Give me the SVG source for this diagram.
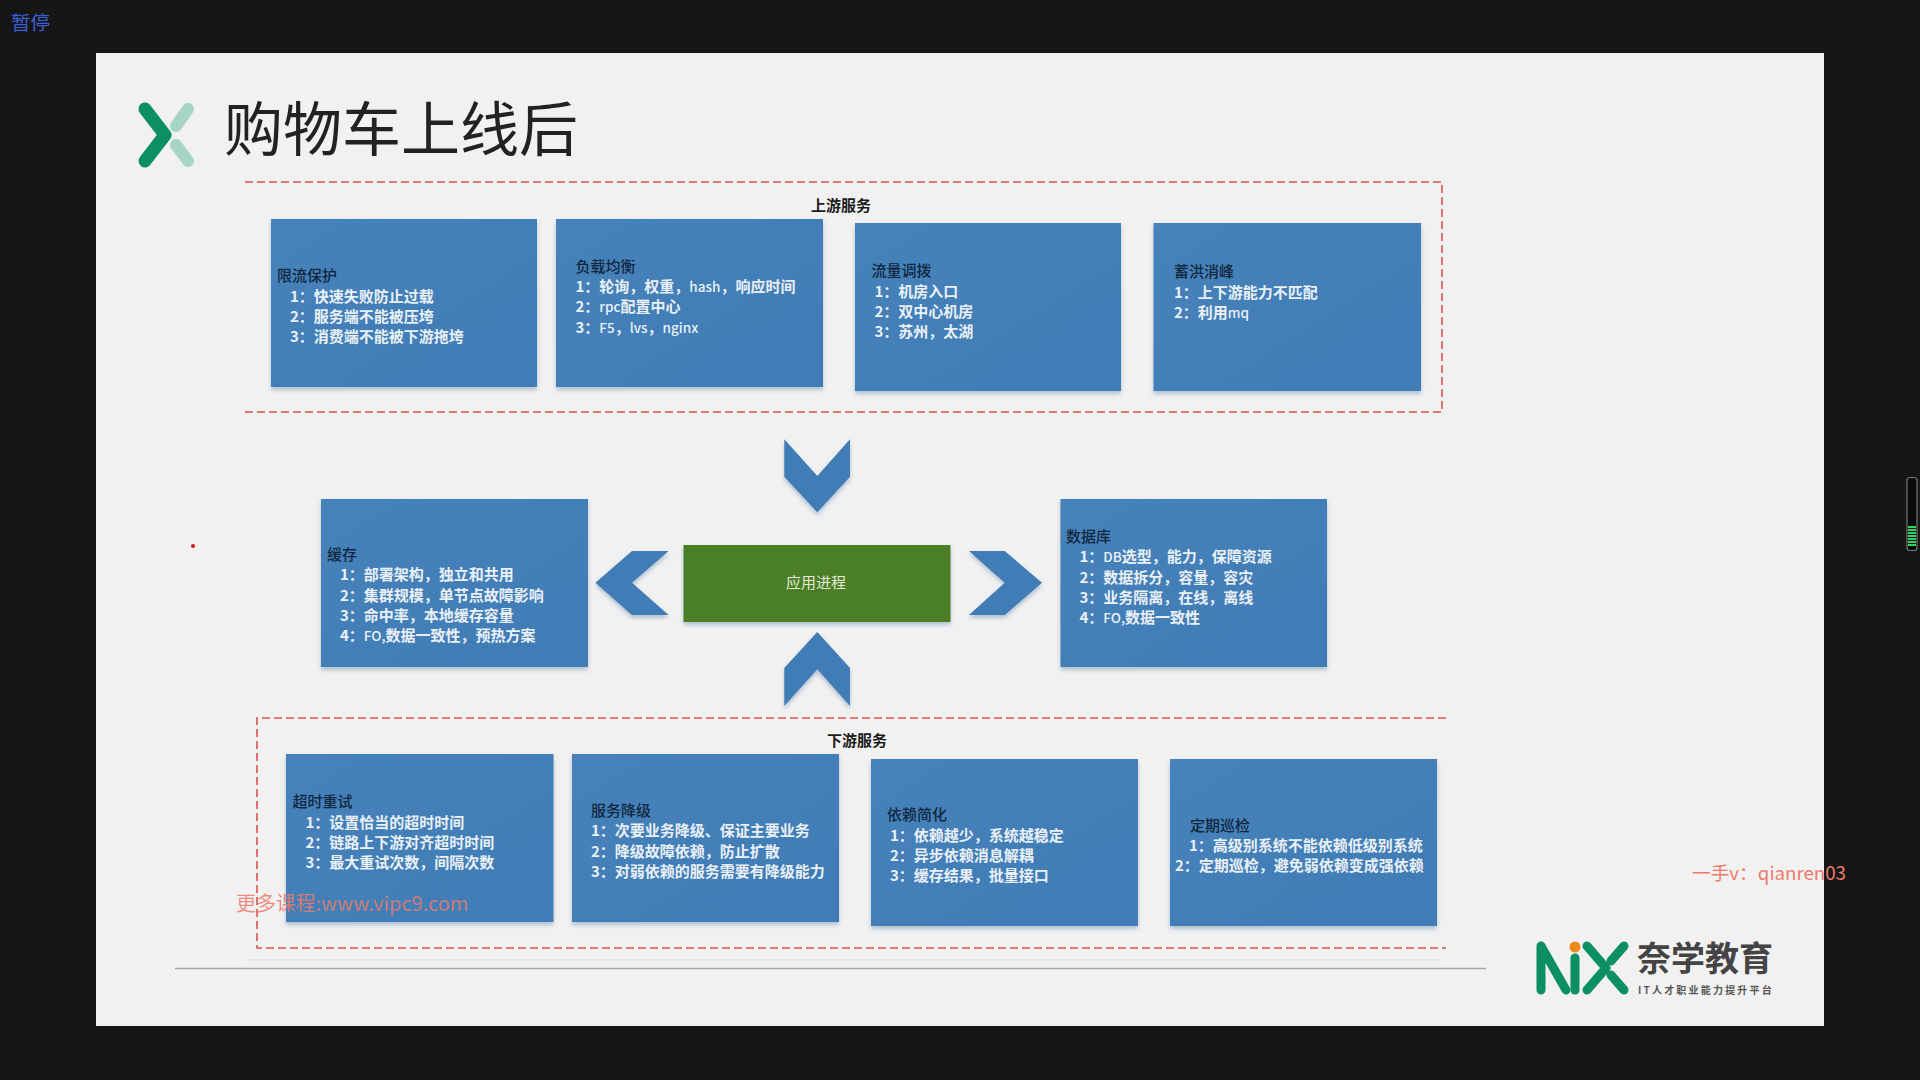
<svg xmlns="http://www.w3.org/2000/svg" width="1920" height="1080" viewBox="0 0 1920 1080">
<style>
text{font-family:"Noto Sans CJK SC","Noto Sans",sans-serif}
.box{fill:url(#b);filter:url(#s)}
.h{font-size:15px;fill:#10273f;font-weight:500}
.t{font-size:15px;fill:#eaf0f6;font-weight:700}
.l{font-size:13.5px;font-weight:500}
.cap{font-size:15px;fill:#1b1b1b;font-weight:700}
.dash{fill:none;stroke:#d9534a;stroke-width:1.6;stroke-dasharray:8 4}
.chev{fill:#3f7bb5;filter:url(#s)}
.wm{fill:#ec7b6c}
</style>
<defs>
<linearGradient id="b" x1="0" y1="0" x2="1" y2="1"><stop offset="0" stop-color="#4682ba"/><stop offset="1" stop-color="#407cb5"/></linearGradient>
<filter id="s" x="-5%" y="-5%" width="110%" height="112%"><feDropShadow dx="0" dy="3" stdDeviation="2" flood-color="#6f8fb0" flood-opacity=".5"/></filter>
</defs>
<rect width="1920" height="1080" fill="#161616"/>
<rect x="96" y="53" width="1728" height="973" fill="#f1f1f1"/>
<text x="11" y="30" font-size="19.5" fill="#3d5fd6">暂停</text>

<g id="logo-top" fill="none" stroke-linecap="round" stroke-linejoin="round" stroke-width="13">
<path d="M145 109L165 135L145 161" stroke="#0b8f63"/>
<path d="M188 109L176 126M176 145L188 161" stroke="#a6d5c6" stroke-width="12"/>
</g>
<text id="title" x="224" y="151" font-size="59" fill="#222">购物车上线后</text>

<g id="upstream-frame">
<path class="dash" d="M245 182H1442V412H245"/>
<text class="cap" x="811" y="211">上游服务</text>
</g>
<g id="downstream-frame">
<path class="dash" d="M1446 718H257V948H1446"/>
<text class="cap" x="827" y="746">下游服务</text>
</g>

<g id="connectors">
<path class="chev" d="M784.3 439.3L817.3 476L850 439.3V476.7L817.3 512.3L784.3 476.7Z"/>
<path class="chev" d="M595.4 582.7L632 551H668.6L632 582.7L668.6 615H632Z"/>
<path class="chev" d="M969 551H1004.7L1042 582.7L1004.7 615H969L1004.7 582.7Z"/>
<path class="chev" d="M817.3 632L850 668V706L817.3 669.3L784.3 706V668Z"/>
</g>

<g id="n-limit"><rect class="box" x="271" y="219" width="266" height="168"/>
<text class="h" x="277" y="281">限流保护</text>
<text class="t" x="290" y="302">1：快速失败防止过载</text><text class="t" x="290" y="322">2：服务端不能被压垮</text><text class="t" x="290" y="342">3：消费端不能被下游拖垮</text></g>
<g id="n-lb"><rect class="box" x="556" y="219" width="267" height="168"/>
<text class="h" x="575.5" y="272">负载均衡</text>
<text class="t" x="575.5" y="292">1：轮询，权重，<tspan class="l">hash</tspan>，响应时间</text><text class="t" x="575.5" y="312">2：<tspan class="l">rpc</tspan>配置中心</text><text class="t" x="575.5" y="333">3：<tspan class="l">F5</tspan>，<tspan class="l">lvs</tspan>，<tspan class="l">nginx</tspan></text></g>
<g id="n-traffic"><rect class="box" x="855" y="223" width="266" height="168"/>
<text class="h" x="871.5" y="276">流量调拨</text>
<text class="t" x="874.5" y="297">1：机房入口</text><text class="t" x="874.5" y="317">2：双中心机房</text><text class="t" x="874.5" y="337">3：苏州，太湖</text></g>
<g id="n-peak"><rect class="box" x="1153.5" y="223" width="267.5" height="168"/>
<text class="h" x="1174" y="277">蓄洪消峰</text>
<text class="t" x="1174" y="298">1：上下游能力不匹配</text><text class="t" x="1174" y="318">2：利用<tspan class="l">mq</tspan></text></g>

<g id="n-cache"><rect class="box" x="321" y="499" width="267" height="168"/>
<text class="h" x="327" y="560">缓存</text>
<text class="t" x="340" y="580">1：部署架构，独立和共用</text><text class="t" x="340" y="601">2：集群规模，单节点故障影响</text><text class="t" x="340" y="621">3：命中率，本地缓存容量</text><text class="t" x="340" y="641">4：<tspan class="l">FO,</tspan>数据一致性，预热方案</text></g>
<g id="n-app"><rect x="683.5" y="545" width="267" height="77" fill="#4c7f27" filter="url(#s)"/>
<text x="816" y="588" font-size="15" fill="#e3ebd8" text-anchor="middle">应用进程</text></g>
<g id="n-db"><rect class="box" x="1060.5" y="499" width="266.5" height="168"/>
<text class="h" x="1066" y="542">数据库</text>
<text class="t" x="1079.5" y="562">1：<tspan class="l">DB</tspan>选型，能力，保障资源</text><text class="t" x="1079.5" y="583">2：数据拆分，容量，容灾</text><text class="t" x="1079.5" y="603">3：业务隔离，在线，离线</text><text class="t" x="1079.5" y="623">4：<tspan class="l">FO,</tspan>数据一致性</text></g>

<g id="n-retry"><rect class="box" x="286" y="754" width="267.5" height="168"/>
<text class="h" x="292.5" y="807">超时重试</text>
<text class="t" x="305.5" y="828">1：设置恰当的超时时间</text><text class="t" x="305.5" y="848">2：链路上下游对齐超时时间</text><text class="t" x="305.5" y="868">3：最大重试次数，间隔次数</text></g>
<g id="n-degrade"><rect class="box" x="572" y="754" width="267" height="168"/>
<text class="h" x="591" y="816">服务降级</text>
<text class="t" x="591" y="836">1：次要业务降级、保证主要业务</text><text class="t" x="591" y="857">2：降级故障依赖，防止扩散</text><text class="t" x="591" y="877">3：对弱依赖的服务需要有降级能力</text></g>
<g id="n-simplify"><rect class="box" x="871" y="759" width="267" height="167"/>
<text class="h" x="887" y="820">依赖简化</text>
<text class="t" x="890" y="841">1：依赖越少，系统越稳定</text><text class="t" x="890" y="861">2：异步依赖消息解耦</text><text class="t" x="890" y="881">3：缓存结果，批量接口</text></g>
<g id="n-inspect"><rect class="box" x="1170" y="759" width="267" height="167"/>
<text class="h" x="1190" y="831">定期巡检</text>
<text class="t" x="1189" y="851">1：高级别系统不能依赖低级别系统</text><text class="t" x="1175" y="871">2：定期巡检，避免弱依赖变成强依赖</text></g>

<path d="M247 960H1440" stroke="#e2e2e2" stroke-width="1.5" fill="none"/>
<path d="M175 968.5H1486" stroke="#a9a9a9" stroke-width="1.5" fill="none"/>

<g id="logo-bottom">
<g fill="none" stroke="#0b8f63" stroke-width="9" stroke-linecap="round" stroke-linejoin="round">
<path d="M1541 946V990M1541 946L1566 990"/>
<path d="M1575 958V990"/>
<path d="M1587 946L1606 968L1587 990"/>
<path d="M1624 946L1611 961M1611 975L1624 990"/>
</g>
<circle cx="1575" cy="947" r="5.5" fill="#ee8a1d"/>
<text x="1637" y="971" font-size="34" font-weight="700" fill="#444">奈学教育</text>
<text x="1638" y="994" font-size="10" font-weight="700" fill="#555" letter-spacing="2.2">IT人才职业能力提升平台</text>
</g>

<text class="wm" x="1692" y="880" font-size="18.7">一手v：qianren03</text>
<text class="wm" x="236" y="911" font-size="20" opacity=".85">更多课程:www.vipc9.com</text>
<circle cx="193" cy="546" r="2" fill="#d2141c"/>

<g id="level-meter">
<rect x="1907" y="477.500" width="10" height="73" rx="3" fill="#0a0a0a" stroke="#777" stroke-width="1.200"/>
<path d="M1908 527H1916M1908 530H1916M1908 533H1916M1908 536H1916M1908 539H1916M1908 542H1916M1908 545H1916" stroke="#2fd45f" stroke-width="1.800"/>
</g>
</svg>
